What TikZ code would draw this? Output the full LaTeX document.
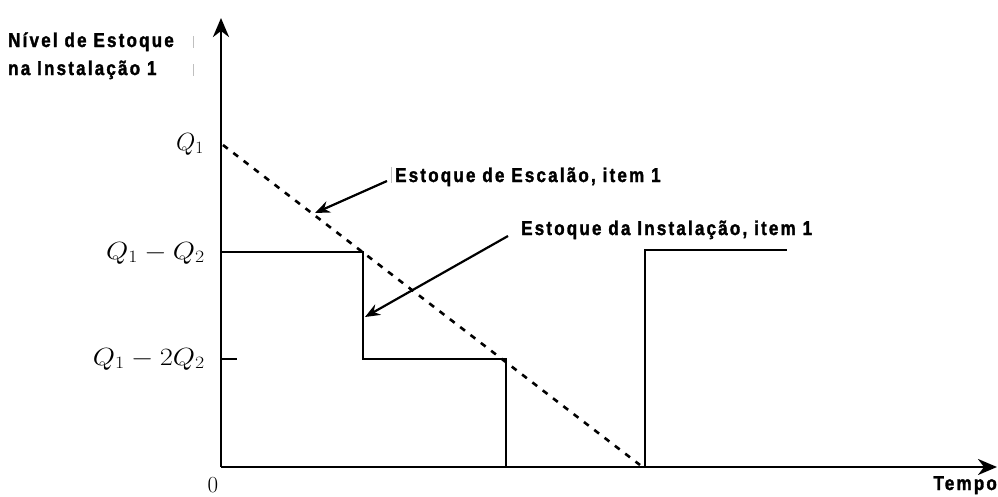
\documentclass[tikz,border=0pt]{standalone}
\usepackage{fontspec}
\usetikzlibrary{arrows.meta}
\newfontfamily\labfont[FakeStretch=0.85,LetterSpace=11,FakeBold=1.6]{Liberation Sans}
\tikzset{
  axisline/.style={line width=2.8pt,-{Stealth[length=19pt,width=16pt,inset=6pt]}},
  curve/.style={line width=2.8pt},
  echelon/.style={line width=2.6pt,dash pattern=on 6pt off 7pt},
  callout/.style={line width=2.2pt,-{Stealth[length=15pt,width=12pt,inset=5pt]}},
  blab/.style={inner sep=0pt,font=\labfont\bfseries\fontsize{20}{23}\selectfont},
  mlab/.style={inner sep=0pt,font=\fontsize{23}{27}\selectfont},
  artefact/.style={draw=black!25,line width=1pt}
}
\begin{document}
\begin{tikzpicture}[x=1pt,y=-1pt]
\useasboundingbox (0,0) rectangle (998,496);
% axes
\coordinate (O) at (221,467);
\coordinate (Ytip) at (221,18);
\coordinate (Xtip) at (997,467);
\draw[axisline] (O) -- (Ytip);
\draw[axisline] (O) -- (Xtip);
% staircase (installation stock)
\coordinate (s0) at (221,252);
\coordinate (s1) at (363,252);
\coordinate (s2) at (363,359);
\coordinate (s3) at (506,359);
\coordinate (s4) at (506,467);
\draw[curve] (s0) -- (s1) -- (s2) -- (s3) -- (s4);
\coordinate (r0) at (645,467);
\coordinate (r1) at (645,250);
\coordinate (r2) at (787,250);
\draw[curve] (r0) -- (r1) -- (r2);
% echelon stock
\coordinate (e0) at (223,145);
\coordinate (e1) at (640,465);
\draw[echelon] (e0) -- (e1);
% tick
\coordinate (t0) at (221,359);
\coordinate (t1) at (237,359);
\draw[curve] (t0) -- (t1);
% axis labels
\node[blab,anchor=base west] (yl1) at (8,47) {Nível de Estoque};
\node[blab,anchor=base west] (yl2) at (8,75) {na Instalação 1};
\node[blab,anchor=base east] (xl) at (997,490) {Tempo};
\node[mlab,anchor=base] (zero) at (213,492) {0};
\node[mlab,anchor=base east] (q1) at (204,150) {$Q_1$};
\node[mlab,anchor=base east] (q1q2) at (205,259) {\scalebox{1.15}[1]{$Q_1-Q_2$}};
\node[mlab,anchor=base east] (q12q2) at (205,365) {\scalebox{1.15}[1]{$Q_1-2Q_2$}};
% callouts
\node[blab,anchor=base west] (esc) at (395,182) {Estoque de Escalão, item 1};
\node[blab,anchor=base west] (inst) at (521,235) {Estoque da Instalação, item 1};
\coordinate (a0) at (387,181);
\coordinate (a1) at (315,213);
\coordinate (b0) at (508,236);
\coordinate (b1) at (365,317);
\draw[callout] (a0) -- (a1);
\draw[callout] (b0) -- (b1);
% faint scan marks
\draw[artefact] (193,36) -- (193,48);
\draw[artefact] (193,64) -- (193,76);
\draw[artefact] (391,167) -- (391,183);
\end{tikzpicture}
\end{document}
